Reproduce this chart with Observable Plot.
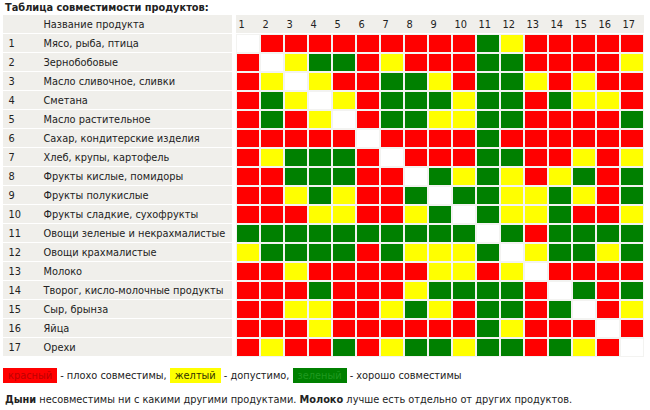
<!DOCTYPE html>
<html>
<head>
<meta charset="utf-8">
<script src="https://cdn.jsdelivr.net/npm/d3@7"></script>
<script src="https://cdn.jsdelivr.net/npm/@observablehq/plot@0.6"></script>
<style>
  html, body { margin: 0; padding: 0; background: #fff; }
  #wrap { position: relative; width: 650px; height: 410px; font-family: "DejaVu Sans", Verdana, sans-serif; color: #222; }
  #title { position: absolute; left: 5px; top: 2px; font-weight: bold; font-size: 9.8px; }
  #labels { position: absolute; left: 0; top: 0; }
  #grid { position: absolute; left: 232px; top: 0; }
  #legend { position: absolute; left: 3px; top: 370px; font-size: 9.8px; white-space: nowrap; }
  #legend span.k { padding: 2px 5px 2px 5px; }
  #note { position: absolute; left: 5px; top: 394px; font-size: 9.8px; white-space: nowrap; }
</style>
</head>
<body>
<div id="wrap">
  <div id="title">Таблица совместимости продуктов:</div>
  <div id="labels"></div>
  <div id="grid"></div>
  <div id="legend"></div>
  <div id="note"><b>Дыни</b> несовместимы ни с какими другими продуктами. <b>Молоко</b> лучше есть отдельно от других продуктов.</div>
</div>
<script>
const headerLabel = "Название продукта";
const ids = ["1","2","3","4","5","6","7","8","9","10","11","12","13","14","15","16","17"];
const products = [
  "Мясо, рыба, птица",
  "Зернобобовые",
  "Масло сливочное, сливки",
  "Сметана",
  "Масло растительное",
  "Сахар, кондитерские изделия",
  "Хлеб, крупы, картофель",
  "Фрукты кислые, помидоры",
  "Фрукты полукислые",
  "Фрукты сладкие, сухофрукты",
  "Овощи зеленые и некрахмалистые",
  "Овощи крахмалистые",
  "Молоко",
  "Творог, кисло-молочные продукты",
  "Сыр, брынза",
  "Яйца",
  "Орехи"
];
// R = плохо, Y = допустимо, G = хорошо, W = диагональ
const compat = [
  "WRRRRRRRRRGYRRRRR",
  "RWYGGRYRRRGGRRRRY",
  "RYWYRRGGYRGGYRYRR",
  "RGYWYRGGGYGGRGYYR",
  "RGRYWRGGYYGGRRRRG",
  "RRRRRWRRRRGRRRRRR",
  "RYGGGRWRRRGGRRYRY",
  "RRGGGRRWGYGYRYGRG",
  "RRYGYRRGWGGYYGYRG",
  "RRRYYRRYGWGYYGRRY",
  "GGGGGGGGGGWGRGGGG",
  "YGGGGRGYYYGWYGGYG",
  "RRYRRRRRYYRYWRRRR",
  "RRRGRRRYGGGGRWGRG",
  "RRYYRRYGYRGGRGWRY",
  "RRRYRRRRRRGYRRRWR",
  "RYRRGRYGGYGGRGYRW"
];
const codes = ["R","Y","G","W"];
const colors = ["#ff0000","#ffff00","#008000","#ffffff"];
const legendItems = [
  {code: "R", word: "красный", text: " - плохо совместимы, ", ink: "#c00000"},
  {code: "Y", word: "желтый", text: " - допустимо, ", ink: "#333300"},
  {code: "G", word: "зеленый", text: " - хорошо совместимы", ink: "#1f9a1f"}
];

const cells = [];
compat.forEach((row, i) => row.split("").forEach((c, j) => cells.push({row: ids[i], col: ids[j], v: c})));
const rowsWithHeader = ["h", ...ids];
const bg = "#f0efeb";
const yScale = {type: "band", domain: rowsWithHeader, padding: 0, axis: null};
const fs = 9.8;

const labelPlot = Plot.plot({
  width: 232, height: 360,
  marginLeft: 3, marginRight: 0, marginTop: 14, marginBottom: 3,
  y: yScale,
  style: {fontFamily: "DejaVu Sans, Verdana, sans-serif", fontSize: fs + "px", color: "#222", background: "transparent"},
  marks: [
    Plot.cell(rowsWithHeader, {y: d => d, fill: bg, insetBottom: 1}),
    Plot.text(ids, {y: d => d, text: d => d, frameAnchor: "left", dx: 5, textAnchor: "start", fill: "#222", fontSize: fs}),
    Plot.text(ids, {y: d => d, text: (d, i) => products[i], frameAnchor: "left", dx: 40, textAnchor: "start", fill: "#222", fontSize: fs}),
    Plot.text([headerLabel], {y: () => "h", text: d => d, frameAnchor: "left", dx: 40, textAnchor: "start", fill: "#222", fontSize: fs})
  ]
});
document.getElementById("labels").appendChild(labelPlot);

const gridPlot = Plot.plot({
  width: 418, height: 360,
  marginLeft: 0, marginRight: 3, marginTop: 14, marginBottom: 3,
  x: {type: "band", domain: ids, padding: 0, axis: null},
  y: yScale,
  color: {type: "ordinal", domain: codes, range: colors},
  style: {fontFamily: "DejaVu Sans, Verdana, sans-serif", fontSize: fs + "px", color: "#222", background: "transparent"},
  marks: [
    Plot.cell(ids, {x: d => d, y: () => "h", fill: bg, insetBottom: 1}),
    Plot.cell(cells, {x: "col", y: "row", fill: "#f3f3f1"}),
    Plot.cell(cells, {x: "col", y: "row", fill: "v", inset: 1}),
    Plot.text(ids, {x: d => d, y: () => "h", text: d => d, dx: -10, textAnchor: "start", fill: "#222", fontSize: fs})
  ]
});
document.getElementById("grid").appendChild(gridPlot);

const legend = document.getElementById("legend");
legendItems.forEach(it => {
  const k = document.createElement("span");
  k.className = "k";
  k.style.background = colors[codes.indexOf(it.code)];
  k.style.color = it.ink;
  k.textContent = it.word;
  legend.appendChild(k);
  legend.appendChild(document.createTextNode(it.text));
});
</script>
</body>
</html>
